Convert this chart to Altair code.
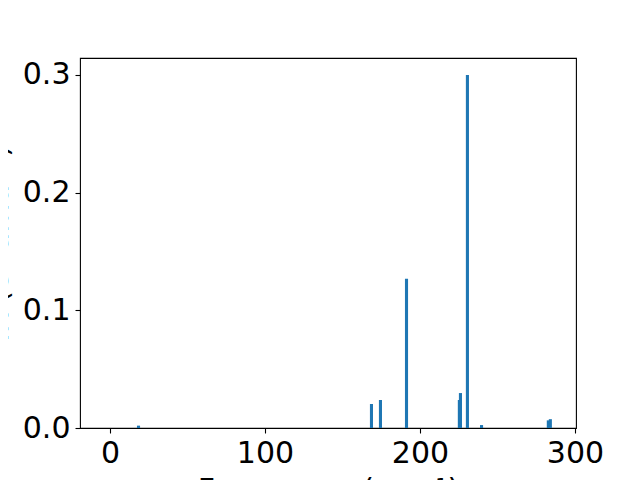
import altair as alt
import pandas as pd

# Data
freq = [18.4, 168.7, 174.5, 191.3, 225.4, 226.1, 230.6, 239.7, 282.8, 284.1]
intensity = [0.002, 0.0204, 0.0238, 0.1269, 0.0238, 0.0297, 0.300, 0.0025, 0.0065, 0.0075]
bar_width = 2.0
x_ticks = [0, 100, 200, 300]
y_ticks = [0.0, 0.1, 0.2, 0.3]

df = pd.DataFrame({"freq": freq, "intensity": intensity})

chart = (
    alt.Chart(df)
    .transform_calculate(
        lo=f"datum.freq - {bar_width / 2}",
        hi=f"datum.freq + {bar_width / 2}",
    )
    .mark_bar(color="#1f77b4", clip=True)
    .encode(
        x=alt.X(
            "lo:Q",
            scale=alt.Scale(domain=[-19.35, 300.65], nice=False, zero=False),
            axis=alt.Axis(
                values=x_ticks,
                format="d",
                title="Frequency (cm⁻¹)",
                titleX=248,
                titleY=71,
                titleBaseline="alphabetic",
                titleAlign="center",
                labelBaseline="top",
            ),
        ),
        x2="hi:Q",
        y=alt.Y(
            "intensity:Q",
            scale=alt.Scale(domain=[0, 0.3144], nice=False),
            axis=alt.Axis(
                values=y_ticks,
                format=".1f",
                title="IR (e² amu⁻¹)",
                titleAngle=270,
                titleX=-73,
                titleY=185,
                titleAlign="center",
                titleBaseline="alphabetic",
                labelBaseline="middle",
            ),
        ),
        y2=alt.datum(0),
    )
    .properties(
        width=496,
        height=370,
        padding={"left": 72, "top": 50, "right": 56, "bottom": 52},
        autosize=alt.AutoSizeParams(type="none"),
    )
    .configure_view(stroke="black", strokeWidth=1.1)
    .configure_axis(
        domain=False,
        grid=False,
        labelFont="DejaVu Sans",
        labelFontSize=30,
        labelColor="black",
        labelPadding=5,
        tickColor="black",
        tickSize=5,
        tickWidth=1.1,
        titleFont="DejaVu Sans",
        titleFontSize=30,
        titleFontWeight="normal",
        titleColor="black",
    )
)

chart.save("out.html", embed_options={"renderer": "svg", "actions": False})
